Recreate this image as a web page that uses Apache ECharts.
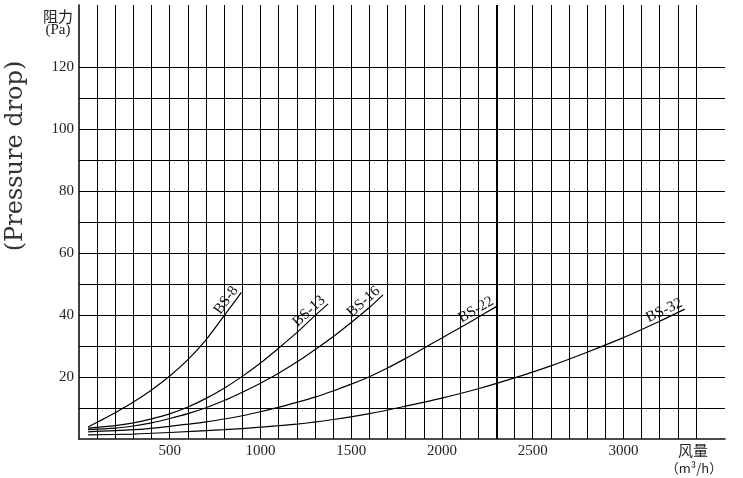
<!DOCTYPE html>
<html><head><meta charset="utf-8">
<script src="https://cdn.jsdelivr.net/npm/echarts@6.0.0/dist/echarts.min.js"></script>
<style>html,body{margin:0;padding:0;background:#fff}#c{width:743px;height:478px}</style>
</head><body><div id="c"></div>
<script>
// ---- data ----
const seriesNames = ['BS-8', 'BS-13', 'BS-16', 'BS-22', 'BS-32'];
const bs8X  = [50, 100, 200, 300, 400, 500, 600, 700, 800, 895];
const bs8Y  = [3.9, 5.4, 8.5, 11.9, 15.8, 20.3, 25.6, 32.0, 39.8, 47.3];
const bs13X = [50, 200, 300, 400, 500, 600, 700, 800, 900, 1000, 1100, 1200, 1300, 1373];
const bs13Y = [3.5, 4.3, 5.2, 6.5, 8.1, 10.3, 13.1, 16.4, 20.2, 24.5, 29.3, 34.3, 39.8, 43.6];
const bs16X = [50, 200, 300, 400, 500, 600, 700, 800, 900, 1000, 1100, 1200, 1300, 1400, 1500, 1600, 1675];
const bs16Y = [3.0, 3.5, 4.2, 5.2, 6.6, 8.2, 10.1, 12.4, 15.1, 18.0, 21.2, 24.8, 28.8, 33.0, 37.6, 42.4, 46.5];
const bs22X = [50, 300, 500, 700, 900, 1000, 1100, 1200, 1300, 1400, 1500, 1600, 1700, 1800, 1900, 2000, 2100, 2200, 2300];
const bs22Y = [2.3, 3.0, 4.1, 5.5, 7.5, 8.8, 10.2, 11.8, 13.5, 15.5, 17.7, 20.1, 22.9, 26.0, 29.3, 32.6, 35.9, 39.3, 42.7];
const bs32X = [50, 300, 500, 800, 1000, 1200, 1400, 1600, 1800, 2000, 2200, 2400, 2600, 2800, 3000, 3200, 3338];
const bs32Y = [1.3, 1.6, 2.1, 3.0, 3.8, 4.8, 6.3, 8.2, 10.6, 13.2, 16.2, 19.7, 23.6, 28.0, 32.7, 38.0, 41.9];
const xTickLabels = [500, 1000, 1500, 2000, 2500, 3000];
const yTickLabels = [20, 40, 60, 80, 100, 120];
const xGridStep = 100, xGridLast = 3400, xHeavyLine = 2300;
const yGridStep = 10, yGridLast = 120;

const curvesX = [bs8X, bs13X, bs16X, bs22X, bs32X];
const curvesY = [bs8Y, bs13Y, bs16Y, bs22Y, bs32Y];

// ---- chart ----
const chart = echarts.init(document.getElementById('c'), null, {renderer: 'canvas'});
const serif = '"Liberation Serif", "Times New Roman", serif';
const cjk = '"Noto Sans CJK SC", sans-serif';

const gridMarks = [];
for (let v = xGridStep; v <= xGridLast; v += xGridStep) {
  gridMarks.push({xAxis: v, lineStyle: {width: v === xHeavyLine ? 2 : 1, color: '#000'}});
}
for (let v = yGridStep; v <= yGridLast; v += yGridStep) {
  gridMarks.push({yAxis: v, lineStyle: {width: 1, color: '#000'}});
}

const series = [{
  type: 'line', data: [], silent: true, z: 1,
  markLine: {
    silent: true, symbol: ['none', 'none'], animation: false,
    label: {show: false}, emphasis: {disabled: true},
    lineStyle: {type: 'solid', color: '#000', width: 1},
    data: gridMarks
  }
}];
seriesNames.forEach((name, i) => {
  series.push({
    name, type: 'line', smooth: 0.3, showSymbol: false, silent: true, z: 3,
    lineStyle: {color: '#000', width: 1.2},
    data: curvesX[i].map((x, j) => [x, curvesY[i][j]])
  });
});

chart.setOption({
  animation: false,
  backgroundColor: '#fff',
  grid: {left: 79, top: 5, right: 18, bottom: 39, containLabel: false},
  xAxis: {
    type: 'value', min: 0, max: 3560, interval: 500,
    axisLine: {show: true, lineStyle: {color: '#111', width: 1.5}},
    axisTick: {show: false}, splitLine: {show: false},
    axisLabel: {
      margin: 5, color: '#222', fontFamily: serif, fontSize: 15,
      formatter: v => xTickLabels.includes(v) ? String(v) : ''
    }
  },
  yAxis: {
    type: 'value', min: 0, max: 140, interval: 20,
    axisLine: {show: true, lineStyle: {color: '#000', width: 1.5}},
    axisTick: {show: false}, splitLine: {show: false},
    axisLabel: {
      margin: 5, color: '#222', fontFamily: serif, fontSize: 15,
      formatter: v => yTickLabels.includes(v) ? String(v) : ''
    }
  },
  series
});

// texts and curve labels placed along the end chord of each curve
const graphics = [
  {type: 'text', x: 58, y: 16, style: {text: '阻力', font: '15px ' + cjk, fill: '#222', align: 'center', verticalAlign: 'middle'}},
  {type: 'text', x: 58, y: 30, style: {text: '(Pa)', font: '15px ' + serif, fill: '#222', align: 'center', verticalAlign: 'middle'}},
  {type: 'text', x: 16, y: 156, rotation: Math.PI / 2, style: {text: '(Pressure drop)', font: '24px "DejaVu Serif", serif', fill: '#333', align: 'center', verticalAlign: 'middle'}},
  {type: 'text', x: 693, y: 450, style: {text: '风量', font: '15px ' + cjk, fill: '#222', align: 'center', verticalAlign: 'middle'}},
  {type: 'text', x: 694, y: 468, style: {text: '（m³/h）', font: '13px ' + cjk, fill: '#222', align: 'center', verticalAlign: 'middle'}}
];
seriesNames.forEach((name, i) => {
  const pts = curvesX[i].map((x, j) => chart.convertToPixel({gridIndex: 0}, [x, curvesY[i][j]]));
  const end = pts[pts.length - 1];
  const want = 36;
  let acc = 0, start = pts[0];
  for (let k = pts.length - 1; k > 0; k--) {
    const a = pts[k], b = pts[k - 1];
    const d = Math.hypot(a[0] - b[0], a[1] - b[1]);
    if (acc + d >= want) {
      const t = (want - acc) / d;
      start = [a[0] + (b[0] - a[0]) * t, a[1] + (b[1] - a[1]) * t];
      break;
    }
    acc += d;
  }
  const ang = Math.atan2(start[1] - end[1], end[0] - start[0]);
  graphics.push({
    type: 'text', x: end[0], y: end[1], rotation: ang, z: 10,
    style: {text: name, font: '15px ' + serif, fill: '#111', align: 'right', verticalAlign: 'bottom'}
  });
});
chart.setOption({graphic: graphics});
</script>
</body></html>
